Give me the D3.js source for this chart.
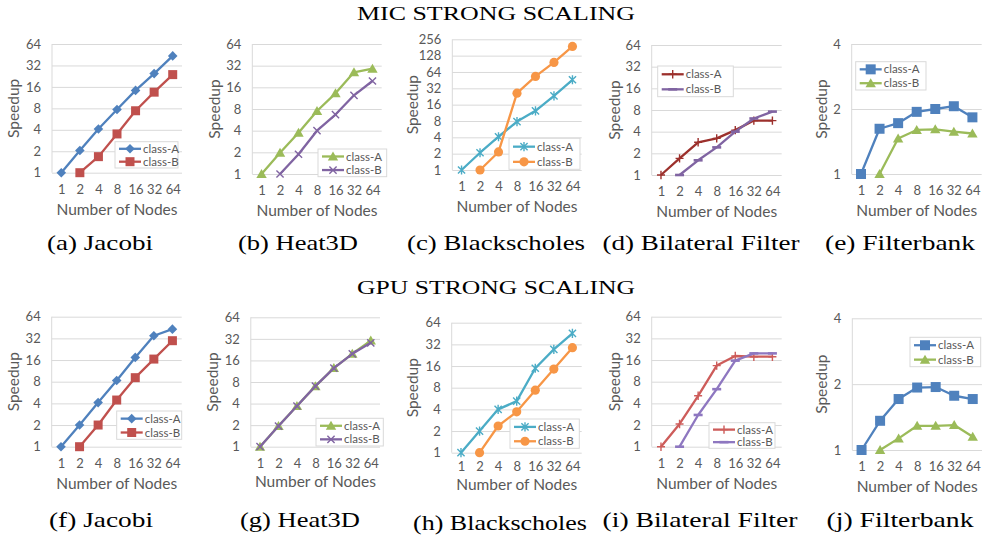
<!DOCTYPE html>
<html lang="en">
<head>
<meta charset="UTF-8">
<title>MIC / GPU strong scaling</title>
<script src="https://d3js.org/d3.v7.min.js"></script>
<style>
  body { margin: 0; background: #fff; }
  .axis text { font-family: Lato, "Open Sans", sans-serif; font-size: 13px; fill: #595959; }
  .axis line { stroke: #d9d9d9; }
  .ttl { font-family: Lato, "Open Sans", sans-serif; font-size: 15.5px; fill: #595959; }
  .leg text { font-family: Lato, "Open Sans", sans-serif; font-size: 11.5px; fill: #595959; }
  .serif { font-family: "Liberation Serif", "Times New Roman", serif; fill: #000; }
</style>
</head>
<body>
<script>
var width = 982, height = 536;

// categories (x axis)
var nodes = ["1", "2", "4", "8", "16", "32", "64"];
var seriesNames = ["class-A", "class-B"];
var ticks64 = [1, 2, 4, 8, 16, 32, 64];
var ticks256 = [1, 2, 4, 8, 16, 32, 64, 128, 256];
var ticks4 = [1, 2, 4];

// MIC speedups
var micJacobiA = [1, 2.05, 4.1, 7.7, 14.3, 24.6, 43.6];
var micJacobiB = [null, 1, 1.68, 3.5, 7.4, 13.5, 23.8];
var micHeatA = [1, 1.97, 3.75, 7.5, 13.2, 25.9, 29];
var micHeatB = [null, 1, 1.88, 4.0, 6.7, 12.4, 19.6];
var micBlackA = [1, 2.08, 4.1, 7.8, 12.3, 23.3, 46];
var micBlackB = [null, 1, 2.15, 26, 53, 96, 189];
var micBilatA = [1, 1.7, 2.85, 3.23, 4.2, 5.7, 5.7];
var micBilatB = [null, 1, 1.6, 2.42, 4.0, 6.1, 7.6];
var micFilterA = [1, 1.62, 1.72, 1.94, 2.0, 2.06, 1.83];
var micFilterB = [null, 1, 1.46, 1.6, 1.61, 1.57, 1.54];

// GPU speedups
var gpuJacobiA = [1, 2.0, 4.1, 8.3, 17.4, 34.8, 43];
var gpuJacobiB = [null, 1, 2.0, 4.45, 9.1, 16.5, 29.7];
var gpuHeatA = [1, 1.94, 3.7, 7.0, 12.5, 19.8, 30.3];
var gpuHeatB = [1, 1.94, 3.7, 7.0, 12.5, 19.8, 28.2];
var gpuBlackA = [1, 2.0, 4.0, 5.2, 14.9, 27.3, 45.6];
var gpuBlackB = [null, 1, 2.35, 3.7, 7.4, 14.5, 28.8];
var gpuBilatA = [1, 2.07, 5.1, 13.4, 18.2, 17.8, 17.8];
var gpuBilatB = [null, 1, 2.76, 6.3, 15.7, 19.8, 19.8];
var gpuFilterA = [1, 1.36, 1.71, 1.93, 1.94, 1.77, 1.71];
var gpuFilterB = [null, 1, 1.13, 1.29, 1.29, 1.3, 1.15];

// line colours and markers
var styles = {
    jacobi: [{ color: "#4f81bd", marker: "diamond" }, { color: "#c0504d", marker: "square" }],
    heat: [{ color: "#9bbb59", marker: "triangle" }, { color: "#8064a2", marker: "x" }],
    black: [{ color: "#4bacc6", marker: "star" }, { color: "#f79646", marker: "circle" }],
    bilatMic: [{ color: "#9c302c", marker: "plus" }, { color: "#8064a2", marker: "dash" }],
    bilatGpu: [{ color: "#cd5c5a", marker: "plus" }, { color: "#8e77c0", marker: "dash" }],
    filter: [{ color: "#4f81bd", marker: "bigsquare" }, { color: "#9bbb59", marker: "triangle" }]
};

var panels = [
    { cap: "(a) Jacobi", a: micJacobiA, b: micJacobiB, ticks: ticks64, st: styles.jacobi,
      left: 52, right: 182, top: 44, bottom: 172.7, spX: 14, leg: [115, 141.7, 63, 26.3], capX: 100, capY: 250, capW: 106 },
    { cap: "(b) Heat3D", a: micHeatA, b: micHeatB, ticks: ticks64, st: styles.heat,
      left: 252.3, right: 381.7, top: 44, bottom: 174, spX: 215, leg: [318, 149, 68.7, 27.7], capX: 298, capY: 250, capW: 120 },
    { cap: "(c) Blackscholes", a: micBlackA, b: micBlackB, ticks: ticks256, st: styles.black,
      left: 452.3, right: 581.7, top: 39.3, bottom: 170, spX: 413, leg: [509, 138.3, 71, 31], capX: 496, capY: 250, capW: 178 },
    { cap: "(d) Bilateral Filter", a: micBilatA, b: micBilatB, ticks: ticks64, st: styles.bilatMic,
      left: 651.7, right: 781.7, top: 45, bottom: 175, spX: 615, leg: [657.7, 66, 75.6, 30.7], capX: 701, capY: 250, capW: 197 },
    { cap: "(e) Filterbank", a: micFilterA, b: micFilterB, ticks: ticks4, st: styles.filter,
      left: 851.7, right: 981.7, top: 44, bottom: 174, spX: 821.7, leg: [855.7, 61.7, 70.3, 28.3], capX: 900, capY: 250, capW: 150 },
    { cap: "(f) Jacobi", a: gpuJacobiA, b: gpuJacobiB, ticks: ticks64, st: styles.jacobi,
      left: 51.7, right: 181.7, top: 316.7, bottom: 446.7, spX: 14, leg: [116.7, 411, 65, 28.3], capX: 101, capY: 527, capW: 104 },
    { cap: "(g) Heat3D", a: gpuHeatA, b: gpuHeatB, ticks: ticks64, st: styles.heat,
      left: 250.8, right: 380, top: 317.3, bottom: 446.7, spX: 213, leg: [316, 418.3, 67.3, 27.7], capX: 300, capY: 527, capW: 120, xtDy: 35 },
    { cap: "(h) Blackscholes", a: gpuBlackA, b: gpuBlackB, ticks: ticks64, st: styles.black,
      left: 451.7, right: 581.7, top: 322.7, bottom: 452.7, spX: 413, leg: [510, 419, 69.3, 29.3], capX: 500, capY: 530, capW: 174, xtDy: 32, tickPad: 9.5 },
    { cap: "(i) Bilateral Filter", a: gpuBilatA, b: gpuBilatB, ticks: ticks64, st: styles.bilatGpu,
      left: 651.7, right: 781.7, top: 316.7, bottom: 446.7, spX: 615, leg: [709, 422.7, 66, 25.6], capX: 700, capY: 527, capW: 195 },
    { cap: "(j) Filterbank", a: gpuFilterA, b: gpuFilterB, ticks: ticks4, st: styles.filter,
      left: 852.3, right: 982, top: 318.3, bottom: 450, spX: 821.7, leg: [910, 337.3, 70.7, 29.4], capX: 900, capY: 527, capW: 147 }
];

var svg = d3.select("body").append("svg")
    .attr("width", width)
    .attr("height", height);

// row titles
svg.append("text").attr("class", "serif")
    .attr("x", 496 - 139).attr("y", 19.5)
    .attr("font-size", 19.5)
    .attr("textLength", 278).attr("lengthAdjust", "spacingAndGlyphs")
    .text("MIC STRONG SCALING");
svg.append("text").attr("class", "serif")
    .attr("x", 496 - 139).attr("y", 294)
    .attr("font-size", 19.5)
    .attr("textLength", 278).attr("lengthAdjust", "spacingAndGlyphs")
    .text("GPU STRONG SCALING");

var openMarkers = { x: 1, star: 1, plus: 1, dash: 1 };

function markerPath(type) {
    switch (type) {
        case "diamond": return "M0,-4.8L4.8,0L0,4.8L-4.8,0Z";
        case "square": return "M-4.5,-4.5H4.5V4.5H-4.5Z";
        case "bigsquare": return "M-5,-5H5V5H-5Z";
        case "triangle": return "M0,-5L5.2,4H-5.2Z";
        case "circle": return d3.symbol(d3.symbolCircle, 66)();
        case "x": return "M-3.6,-3.6L3.6,3.6M-3.6,3.6L3.6,-3.6";
        case "star": return "M-3.6,-3.6L3.6,3.6M-3.6,3.6L3.6,-3.6M0,-4.6V4.6";
        case "plus": return "M-4,0H4M0,-4.2V4.2";
        case "dash": return "M-4.5,0H4.5";
    }
}

function addMarker(sel, st) {
    sel.attr("d", markerPath(st.marker));
    if (openMarkers[st.marker]) {
        sel.attr("fill", "none").attr("stroke", st.color)
            .attr("stroke-width", st.marker == "dash" ? 2.6 : 1.4);
    } else {
        sel.attr("fill", st.color).attr("stroke", "none");
    }
}

function drawPanel(p) {
    var g = svg.append("g");

    var x = d3.scalePoint().domain(nodes).range([p.left, p.right]).padding(0.5);
    var y = d3.scaleLog().base(2)
        .domain([1, p.ticks[p.ticks.length - 1]])
        .range([p.bottom, p.top]);

    // y axis with gridlines
    g.append("g").attr("class", "axis")
        .attr("transform", "translate(" + p.left + ",0)")
        .call(d3.axisLeft(y).tickValues(p.ticks).tickFormat(d3.format("d"))
            .tickSize(-(p.right - p.left)).tickPadding(11))
        .call(function (a) { a.select(".domain").remove(); });

    // left border of plot
    g.append("line")
        .attr("x1", p.left).attr("x2", p.left)
        .attr("y1", p.top).attr("y2", p.bottom)
        .attr("stroke", "#d9d9d9");

    // x axis labels
    g.append("g").attr("class", "axis")
        .attr("transform", "translate(0," + p.bottom + ")")
        .call(d3.axisBottom(x).tickSize(0).tickPadding(p.tickPad || 12))
        .call(function (a) { a.select(".domain").remove(); });

    g.append("text").attr("class", "ttl")
        .attr("text-anchor", "middle")
        .attr("x", (p.left + p.right) / 2)
        .attr("y", p.bottom + (p.xtDy || 37))
        .attr("dy", "0.35em")
        .text("Number of Nodes");

    g.append("text").attr("class", "ttl")
        .attr("text-anchor", "middle")
        .attr("transform", "translate(" + p.spX + "," + (p.top + p.bottom) / 2 + ") rotate(-90)")
        .attr("dy", "0.35em")
        .text("Speedup");

    // series
    [p.a, p.b].forEach(function (vals, i) {
        var st = p.st[i];
        var pts = nodes.map(function (n, k) { return { n: n, v: vals[k] }; })
            .filter(function (d) { return d.v != null; });

        g.append("path").datum(pts)
            .attr("fill", "none")
            .attr("stroke", st.color)
            .attr("stroke-width", 2.3)
            .attr("stroke-linejoin", "round")
            .attr("d", d3.line().x(function (d) { return x(d.n); }).y(function (d) { return y(d.v); }));

        g.selectAll(null).data(pts).join("path")
            .attr("transform", function (d) { return "translate(" + x(d.n) + "," + y(d.v) + ")"; })
            .call(addMarker, st);
    });

    // legend
    var L = p.leg;
    var leg = g.append("g").attr("class", "leg");
    leg.append("rect")
        .attr("x", L[0]).attr("y", L[1]).attr("width", L[2]).attr("height", L[3])
        .attr("fill", "#fff").attr("stroke", "#d9d9d9");
    seriesNames.forEach(function (name, i) {
        var st = p.st[i];
        var ly = L[1] + L[3] * (i == 0 ? 0.27 : 0.76);
        var lx = L[0] + 4;
        leg.append("line")
            .attr("x1", lx).attr("x2", lx + 22)
            .attr("y1", ly).attr("y2", ly)
            .attr("stroke", st.color).attr("stroke-width", 2.3);
        leg.append("path")
            .attr("transform", "translate(" + (lx + 11) + "," + ly + ")")
            .call(addMarker, st);
        leg.append("text")
            .attr("x", lx + 24).attr("y", ly).attr("dy", "0.35em")
            .text(name);
    });

    // caption
    svg.append("text").attr("class", "serif")
        .attr("x", p.capX - p.capW / 2).attr("y", p.capY)
        .attr("font-size", 21)
        .attr("textLength", p.capW).attr("lengthAdjust", "spacingAndGlyphs")
        .text(p.cap);
}

panels.forEach(drawPanel);
</script>
</body>
</html>
